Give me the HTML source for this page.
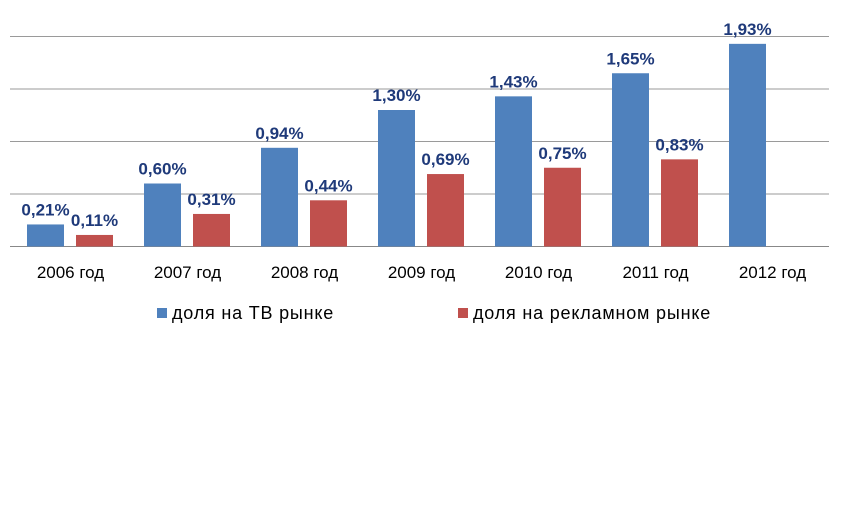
<!DOCTYPE html>
<html><head><meta charset="utf-8"><style>
body{margin:0;background:#fff;width:845px;height:512px;overflow:hidden}
svg{display:block;font-family:"Liberation Sans","DejaVu Sans",sans-serif}
</style></head><body>
<svg id="chart" width="845" height="512"></svg>
<script>
const categories=["2006 год","2007 год","2008 год","2009 год","2010 год","2011 год","2012 год"];
const tvShare=[0.21,0.60,0.94,1.30,1.43,1.65,1.93];
const adShare=[0.11,0.31,0.44,0.69,0.75,0.83,null];
const gridTicks=[0,0.5,1,1.5,2];
const NS="http://www.w3.org/2000/svg";
const svg=document.getElementById("chart");
const x0=10,groupW=117,base=246.5,pxPer=105;
const yS=v=>base-v*pxPer;
const xG=i=>x0+i*groupW;
function mk(t,a,p){const e=document.createElementNS(NS,t);for(const k in a)e.setAttribute(k,a[k]);(p||svg).appendChild(e);return e;}
const fmt=v=>v.toFixed(2).replace(".",",")+"%";
gridTicks.forEach(t=>{
 const l=mk("line",{x1:x0,x2:x0+7*groupW,y1:yS(t),y2:yS(t),stroke:t===0?"#888":"#9a9a9a","stroke-width":1});
 
 
});
function bar(i,v,off,color,name){
 if(v==null)return;
 const r=mk("rect",{x:xG(i)+off,y:yS(v),width:37,height:v*pxPer,fill:color});
 
 
 const t=mk("text",{x:xG(i)+off+18.5,y:yS(v)-9,"text-anchor":"middle","font-size":"17","font-weight":"bold",fill:"#1F3A7A"});
 t.textContent=fmt(v);
 
 
}
categories.forEach((c,i)=>{
 bar(i,tvShare[i],17,"#4F81BD","bar-tv-share");
 bar(i,adShare[i],66,"#C0504D","bar-ad-share");
 const t=mk("text",{x:xG(i)+groupW/2+2,y:278,"text-anchor":"middle","font-size":"17",fill:"#000"});
 t.textContent=c;
 
 
});
const lg=[["доля на ТВ рынке","#4F81BD",157],["доля на рекламном рынке","#C0504D",458]];
lg.forEach(([txt,col,x])=>{
 const g=mk("g",{});
 
 
 mk("rect",{x:x,y:308,width:10,height:10,fill:col},g);
 const t=mk("text",{x:x+15,y:319,"font-size":"18",fill:"#000","letter-spacing":"0.8"},g);
 t.textContent=txt;
});
</script>
</body></html>
